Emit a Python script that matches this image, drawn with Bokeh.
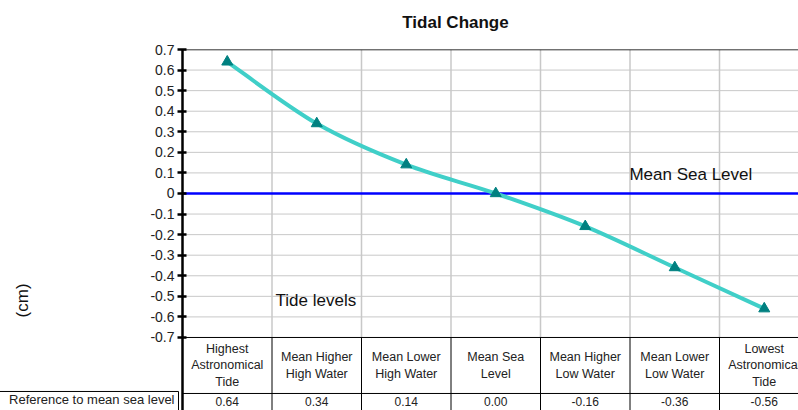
from bokeh.plotting import figure
from bokeh.models import (Range1d, FixedTicker, CustomJSTickFormatter, Label,
                          ColumnDataSource)
from bokeh.core.properties import value
from bokeh.embed import file_html
from bokeh.resources import INLINE
import math

# ---- data ----
categories = ["Highest\nAstronomical\nTide", "Mean Higher\nHigh Water", "Mean Lower\nHigh Water",
              "Mean Sea\nLevel", "Mean Higher\nLow Water", "Mean Lower\nLow Water",
              "Lowest\nAstronomical\nTide"]
values = [0.64, 0.34, 0.14, 0.00, -0.16, -0.36, -0.56]
value_labels = ["0.64", "0.34", "0.14", "0.00", "-0.16", "-0.36", "-0.56"]
y_ticks = [-0.7, -0.6, -0.5, -0.4, -0.3, -0.2, -0.1, 0.0, 0.1, 0.2, 0.3, 0.4, 0.5, 0.6, 0.7]
row_label = "Reference to mean sea level"
title_text = "Tidal Change"
y_label = "(cm)"

FONT = "Liberation Sans"

# ---- geometry ----
W, H = 798, 410
BL, BT = 182, 49
frame_w, frame_h = W - BL, H - BT
col_px = 89.5
xmax = frame_w / col_px
ytop = 0.7
px_per_unit = 205.7
ybot = ytop - frame_h / px_per_unit
n = len(values)
xs = [i + 0.5 for i in range(n)]

table_top = -0.7
header_bottom = table_top - 56 / px_per_unit
row_center = header_bottom - 8 / px_per_unit

p = figure(width=W, height=H, output_backend="svg", toolbar_location=None,
           x_range=Range1d(0, xmax), y_range=Range1d(ybot, ytop),
           x_axis_type=None, min_border_left=BL, min_border_top=BT,
           min_border_right=0, min_border_bottom=0)
p.outline_line_color = None
p.background_fill_color = "white"
p.border_fill_color = "white"

# y axis
yax = p.yaxis[0]
yax.ticker = FixedTicker(ticks=y_ticks)
yax.formatter = CustomJSTickFormatter(code="return Math.abs(tick) < 1e-9 ? '0' : tick.toFixed(1);")
yax.axis_line_width = 2.5
yax.axis_line_color = "black"
yax.major_tick_line_width = 2.5
yax.major_tick_line_color = "black"
yax.major_tick_in = 4
yax.major_tick_out = 5
yax.minor_tick_line_color = None
yax.major_label_text_font = FONT
yax.major_label_text_font_size = "14px"
yax.major_label_text_color = "#222222"
yax.major_label_standoff = 3

p.xgrid.visible = False
p.ygrid.visible = False

# horizontal gridlines in chart area
grid_ys = [t for t in y_ticks if t > -0.7]
p.segment(x0=[0] * len(grid_ys), x1=[xmax] * len(grid_ys), y0=grid_ys, y1=grid_ys,
          line_color="#C8C8C8", line_width=1)
# vertical gridlines in chart area
p.segment(x0=list(range(1, n + 1)), x1=list(range(1, n + 1)), y0=[-0.7] * n, y1=[0.7] * n,
          line_color="#C8C8C8", line_width=1.5)
# top border
p.segment(x0=[0], x1=[xmax], y0=[0.7], y1=[0.7], line_color="black", line_width=1.5)

# table lines
p.segment(x0=list(range(1, n + 1)), x1=list(range(1, n + 1)), y0=[table_top] * n, y1=[ybot] * n,
          line_color="black", line_width=1)
p.segment(x0=[0, 0], x1=[xmax, xmax], y0=[table_top, header_bottom], y1=[table_top, header_bottom],
          line_color="black", line_width=1)

# mean sea level line
p.segment(x0=[0], x1=[xmax], y0=[0], y1=[0], line_color="#0000FF", line_width=2.5)

# smoothed series (Catmull-Rom -> Bezier from data points)
bx0, by0, bx1, by1, cx0, cy0, cx1, cy1 = [], [], [], [], [], [], [], []
for i in range(n - 1):
    pm = (xs[max(i - 1, 0)], values[max(i - 1, 0)])
    p0 = (xs[i], values[i])
    p1 = (xs[i + 1], values[i + 1])
    p2 = (xs[min(i + 2, n - 1)], values[min(i + 2, n - 1)])
    bx0.append(p0[0]); by0.append(p0[1]); bx1.append(p1[0]); by1.append(p1[1])
    cx0.append(p0[0] + (p1[0] - pm[0]) / 6); cy0.append(p0[1] + (p1[1] - pm[1]) / 6)
    cx1.append(p1[0] - (p2[0] - p0[0]) / 6); cy1.append(p1[1] - (p2[1] - p0[1]) / 6)
p.bezier(x0=bx0, y0=by0, x1=bx1, y1=by1, cx0=cx0, cy0=cy0, cx1=cx1, cy1=cy1,
         line_color="#40CFC8", line_width=4)
p.scatter(xs, values, marker="triangle", size=11, fill_color="#008080", line_color="#008080")

# table texts
tx, ty, tt = [], [], []
line_px = 16.5
hdr_center = (table_top + header_bottom) / 2
for i, c in enumerate(categories):
    lines = c.split("\n")
    k = len(lines)
    for j, ln in enumerate(lines):
        off = (j - (k - 1) / 2) * line_px
        tx.append(xs[i]); ty.append(hdr_center - off / px_per_unit); tt.append(ln)
src = ColumnDataSource(dict(x=tx, y=ty, text=tt))
p.text(x="x", y="y", text="text", source=src, text_align="center", text_baseline="middle",
       text_font=value(FONT), text_font_size="12.5px", text_color="#222222")
p.text(x=xs, y=[row_center] * n, text=value_labels, text_align="center", text_baseline="middle",
       text_font=value(FONT), text_font_size="12px", text_color="#222222")

# row label with cell border (top edge = row line, right edge = table left border)
p.add_layout(Label(x=-4 / col_px, y=row_center, text=row_label,
                   text_align="right", text_baseline="middle", text_font=FONT,
                   text_font_size="13px", text_color="#222222", border_line_color="black",
                   border_line_width=1, padding=dict(left=14, right=4, top=1, bottom=4)),
             "above")

# annotations
p.add_layout(Label(x=xs[1] - 0.46, y=-0.52, text="Tide levels", text_align="left",
                   text_baseline="middle", text_font=FONT, text_font_size="17px",
                   text_color="#111111"))
p.add_layout(Label(x=xs[5] + 0.18, y=0.09, text="Mean Sea Level", text_align="center",
                   text_baseline="middle", text_font=FONT, text_font_size="17px",
                   text_color="#111111"))
p.add_layout(Label(x=(455 - 182) / col_px, y=0.7 + 27 / px_per_unit, text=title_text,
                   text_align="center", text_baseline="middle", text_font=FONT,
                   text_font_size="17px", text_font_style="bold", text_color="#111111"),
             "above")
p.add_layout(Label(x=(22 - 182) / col_px, y=-0.52, text=y_label, angle=math.pi / 2,
                   text_align="center", text_baseline="middle", text_font=FONT,
                   text_font_size="17px", text_color="#111111"), "left")

open("out.html", "w").write(file_html(p, INLINE))
